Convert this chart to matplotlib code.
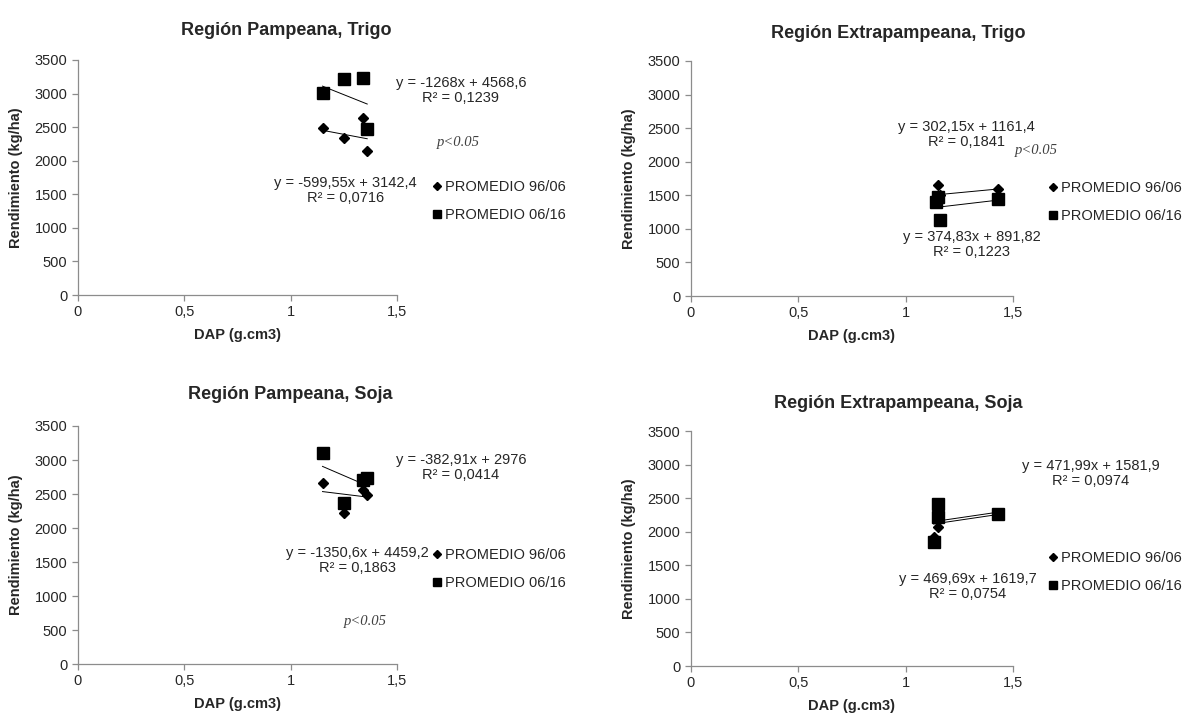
import numpy as np
import matplotlib
matplotlib.use('Agg')
import matplotlib.pyplot as plt

plt.rcParams['font.family'] = ['Liberation Sans', 'DejaVu Sans']

# --- datos (DAP g.cm3 / rendimiento kg/ha) ---
# Region Pampeana, Trigo
pt_x = [1.15, 1.25, 1.34, 1.36]
pt_9606 = [2490, 2340, 2640, 2145]
pt_0616 = [3010, 3210, 3230, 2465]
pt_fit_9606 = (-599.55, 3142.4)
pt_fit_0616 = (-1268, 4568.6)
pt_eq_9606 = ("y = -599,55x + 3142,4", "R² = 0,0716")
pt_eq_0616 = ("y = -1268x + 4568,6", "R² = 0,1239")

# Region Extrapampeana, Trigo
et_x = [1.14, 1.15, 1.16, 1.43]
et_9606 = [1480, 1650, 1500, 1595]
et_0616 = [1405, 1470, 1130, 1440]
et_fit_9606 = (302.15, 1161.4)
et_fit_0616 = (374.83, 891.82)
et_eq_9606 = ("y = 302,15x + 1161,4", "R² = 0,1841")
et_eq_0616 = ("y = 374,83x + 891,82", "R² = 0,1223")

# Region Pampeana, Soja
ps_x = [1.15, 1.25, 1.34, 1.36]
ps_9606 = [2665, 2225, 2560, 2485]
ps_0616 = [3105, 2370, 2705, 2740]
ps_fit_9606 = (-382.91, 2976)
ps_fit_0616 = (-1350.6, 4459.2)
ps_eq_9606 = ("y = -382,91x + 2976", "R² = 0,0414")
ps_eq_0616 = ("y = -1350,6x + 4459,2", "R² = 0,1863")

# Region Extrapampeana, Soja
es_x = [1.13, 1.15, 1.15, 1.43]
es_9606 = [1925, 2065, 2200, 2245]
es_0616 = [1850, 2420, 2225, 2260]
es_fit_9606 = (469.69, 1619.7)
es_fit_0616 = (471.99, 1581.9)
es_eq_9606 = ("y = 469,69x + 1619,7", "R² = 0,0754")
es_eq_0616 = ("y = 471,99x + 1581,9", "R² = 0,0974")

series_names = ["PROMEDIO 96/06", "PROMEDIO 06/16"]
x_ticks = [0, 0.5, 1, 1.5]
x_ticklabels = ["0", "0,5", "1", "1,5"]
y_ticks = [0, 500, 1000, 1500, 2000, 2500, 3000, 3500]

GRAY = '#8c8c8c'
TXT = '#262626'
W, H = 1183, 715

fig = plt.figure(figsize=(W / 100, H / 100), dpi=100)


def trend(ax, xs, coef):
    xs = np.asarray(xs)
    xx = np.array([xs.min(), xs.max()])
    ax.plot(xx, coef[0] * xx + coef[1], color='black', lw=0.7, zorder=2)


def eq_label(ax, pos, lines):
    # dos renglones separados ~15 px, centrados en pos
    for txt, dy in zip(lines, (5.4, -5.4)):
        ax.annotate(txt, xy=pos, xytext=(0, dy), textcoords='offset points',
                    ha='center', va='center', fontsize=10.5, color=TXT,
                    annotation_clip=False)


def panel(rect, title, title_px, xs, y96, y06, f96, f06, eq96, eq06,
          pos96, pos06, p_pos=None):
    ax = fig.add_axes(rect)
    trend(ax, xs, f96)
    trend(ax, xs, f06)
    h1, = ax.plot(xs, y96, 'D', color='black', ms=5.5, ls='none', zorder=3)
    h2, = ax.plot(xs, y06, 's', color='black', ms=8.4, ls='none', zorder=3)

    ax.set_xlim(0, 1.5)
    ax.set_ylim(0, 3500)
    ax.set_xticks(x_ticks)
    ax.set_xticklabels(x_ticklabels)
    ax.set_yticks(y_ticks)
    ax.tick_params(colors=GRAY, labelcolor=TXT, labelsize=10.5,
                   length=4, width=0.9, direction='out')
    for s in ['top', 'right']:
        ax.spines[s].set_visible(False)
    for s in ['left', 'bottom']:
        ax.spines[s].set_color(GRAY)
        ax.spines[s].set_linewidth(0.9)

    ax.set_xlabel('DAP (g.cm3)', fontsize=10.5, fontweight='bold',
                  color=TXT, labelpad=6)
    ax.set_ylabel('Rendimiento (kg/ha)', fontsize=10.5, fontweight='bold',
                  color=TXT, labelpad=8)

    # titulo centrado en el area del grafico (incluye la leyenda)
    fig.text(title_px[0] / W, 1 - title_px[1] / H, title, ha='center',
             va='baseline', fontsize=13, fontweight='bold', color=TXT)

    eq_label(ax, pos96, eq96)
    eq_label(ax, pos06, eq06)
    if p_pos is not None:
        ax.text(p_pos[0], p_pos[1], 'p<0.05', ha='center', va='center',
                fontsize=10.5, style='italic', color='#404040',
                family=['Liberation Serif', 'DejaVu Serif'])

    ax.legend([h1, h2], series_names, loc='center left',
              bbox_to_anchor=(1.112, 0.40), frameon=False, fontsize=10.5,
              handlelength=0.6, handletextpad=0.25, labelspacing=0.95,
              markerscale=0.7, borderpad=0, borderaxespad=0,
              labelcolor=TXT)
    return ax


panel([0.0657, 0.5874, 0.2699, 0.3287], 'Región Pampeana, Trigo', (286, 35),
      pt_x, pt_9606, pt_0616, pt_fit_9606, pt_fit_0616,
      pt_eq_9606, pt_eq_0616, (1.257, 1549), (1.80, 3041), (1.79, 2264))

panel([0.5839, 0.5860, 0.2724, 0.3287], 'Región Extrapampeana, Trigo', (898, 38),
      et_x, et_9606, et_0616, et_fit_9606, et_fit_0616,
      et_eq_9606, et_eq_0616, (1.285, 2398), (1.308, 760), (1.607, 2160))

panel([0.0657, 0.0713, 0.2699, 0.3329], 'Región Pampeana, Soja', (290, 399),
      ps_x, ps_9606, ps_0616, ps_fit_9606, ps_fit_0616,
      ps_eq_9606, ps_eq_0616, (1.80, 2897), (1.313, 1529), (1.35, 618))

panel([0.5839, 0.0685, 0.2724, 0.3287], 'Región Extrapampeana, Soja', (898, 408),
      es_x, es_9606, es_0616, es_fit_9606, es_fit_0616,
      es_eq_9606, es_eq_0616, (1.288, 1177), (1.862, 2874))

fig.savefig('out.png', dpi=100)
